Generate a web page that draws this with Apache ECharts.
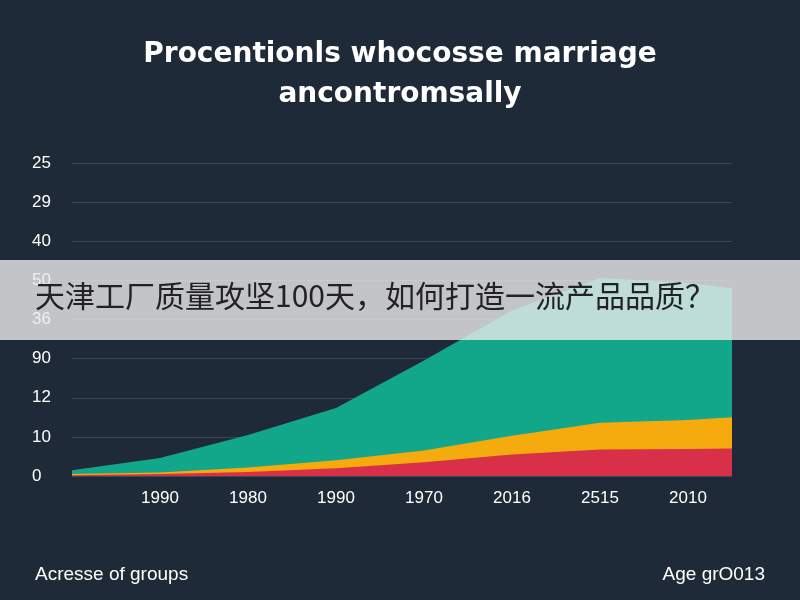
<!DOCTYPE html>
<html>
<head>
<meta charset="utf-8">
<script src="https://cdn.jsdelivr.net/npm/echarts@6/dist/echarts.min.js"></script>
<style>body{margin:0;background:#1f2a38}</style>
</head>
<body>
<div id="main" style="width:800px;height:600px;"></div>
<script>
var yLabels = ['0', '10', '12', '90', '36', '50', '40', '29', '25'];
var xLabels = ['', '1990', '1980', '1990', '1970', '2016', '2515', '2010'];
var xPos = [0, 1, 2, 3, 4, 5, 6, 7, 7.5];
var redVals = [0.02, 0.05, 0.1, 0.2, 0.35, 0.55, 0.68, 0.69, 0.7];
var orangeVals = [0.03, 0.04, 0.12, 0.2, 0.3, 0.48, 0.68, 0.74, 0.8];
var greenVals = [0.1, 0.37, 0.83, 1.34, 2.3, 3.2, 3.7, 3.5, 3.3];

// cumulative tops, drawn back to front
function cum(lists) {
    return xPos.map(function (x, i) {
        var s = 0;
        lists.forEach(function (l) { s += l[i]; });
        return [x, s];
    });
}
function area(name, d, c) {
    return { name: name, type: 'line', data: d, symbol: 'none',
        lineStyle: { width: 0 }, areaStyle: { color: c, opacity: 1 } };
}

var myChart = echarts.init(document.getElementById('main'));
myChart.setOption({
    backgroundColor: '#1f2a38',
    animation: false,
    title: {
        text: 'Procentionls whocosse marriage\nancontromsally',
        left: 'center', top: 30,
        textStyle: { color: '#fff', fontSize: 28, fontWeight: 'bold', lineHeight: 40, fontFamily: 'DejaVu Sans' }
    },
    grid: { left: 72, right: 68, top: 163, bottom: 124 },
    xAxis: {
        type: 'value', min: 0, max: 7.5, interval: 1,
        axisLine: { show: false }, axisTick: { show: false }, splitLine: { show: false },
        axisLabel: { color: '#fff', fontSize: 17, margin: 14, formatter: function (v) { return xLabels[v] || ''; } }
    },
    yAxis: {
        type: 'value', min: 0, max: 8, interval: 1,
        axisLine: { show: false }, axisTick: { show: false },
        splitLine: { lineStyle: { color: '#3c4757' } },
        axisLabel: { color: '#fff', fontSize: 17, align: 'left', margin: 40, formatter: function (v) { return yLabels[v]; } }
    },
    series: [
        area('green', cum([redVals, orangeVals, greenVals]), '#12a78a'),
        area('orange', cum([redVals, orangeVals]), '#f5aa0e'),
        area('red', cum([redVals]), '#d9304a')
    ],
    graphic: [
        { type: 'text', left: 35, top: 565, style: { text: 'Acresse of groups', fill: '#fff', fontSize: 19 } },
        { type: 'text', right: 35, top: 565, style: { text: 'Age grO013', fill: '#fff', fontSize: 19 } },
        { type: 'rect', left: 0, top: 260, shape: { width: 800, height: 80 }, style: { fill: 'rgba(235,235,235,0.8)' }, z: 100 },
        { type: 'text', left: 35, top: 281, z: 101, style: { text: '天津工厂质量攻坚100天，如何打造一流产品品质？', fill: '#222', fontSize: 30, fontFamily: 'Noto Sans CJK SC' } }
    ]
});
</script>
</body>
</html>
